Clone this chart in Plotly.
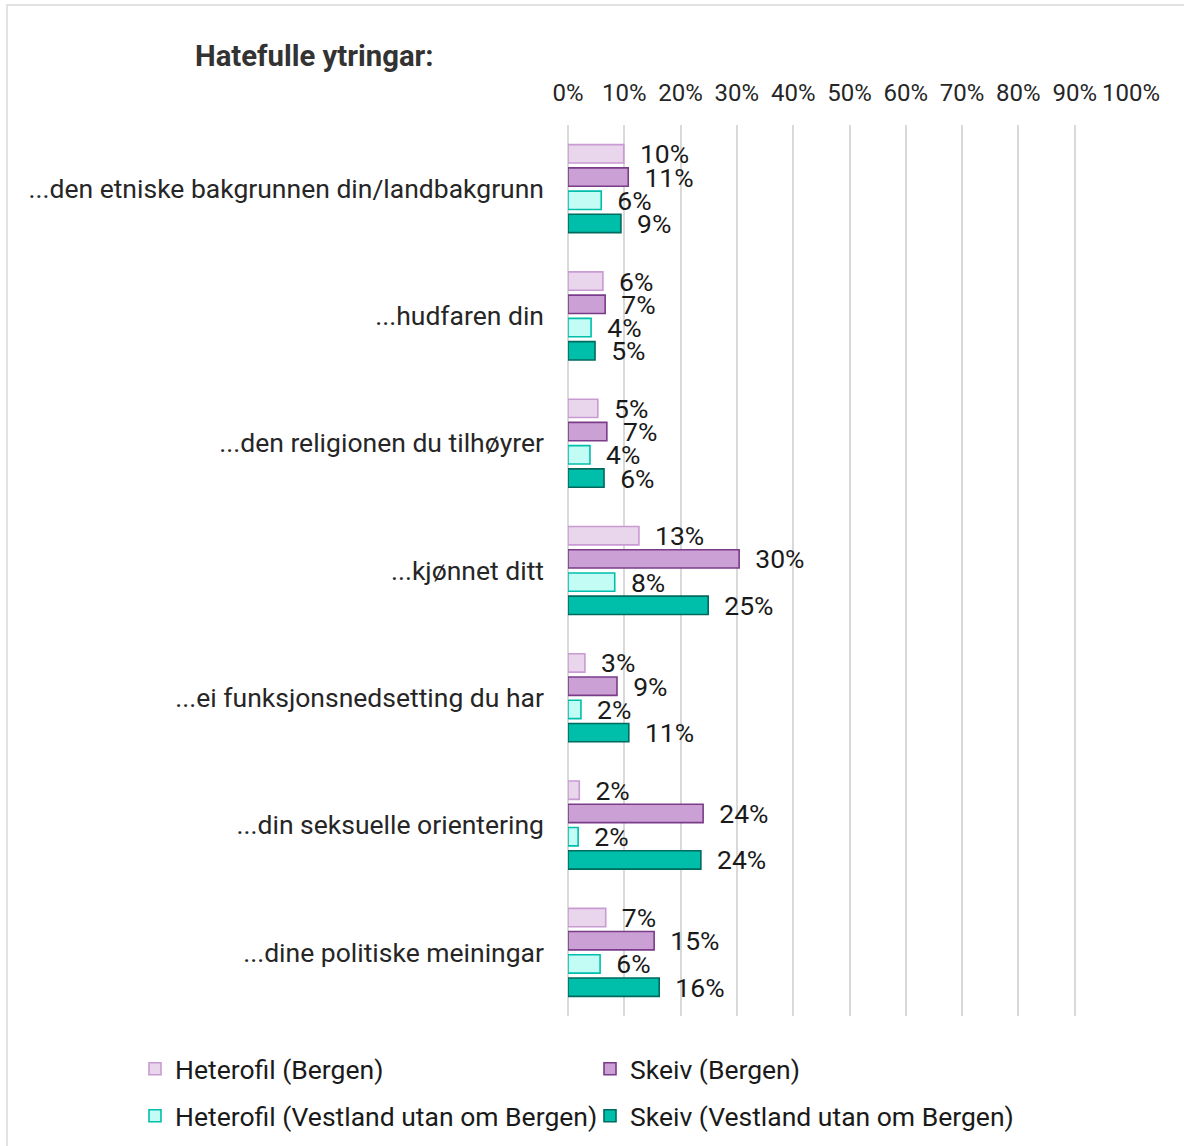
import plotly.graph_objects as go

categories = [
    "...den etniske bakgrunnen din/landbakgrunn",
    "...hudfaren din",
    "...den religionen du tilhøyrer",
    "...kjønnet ditt",
    "...ei funksjonsnedsetting du har",
    "...din seksuelle orientering",
    "...dine politiske meiningar",
]
series_names = [
    "Heterofil (Bergen)",
    "Skeiv (Bergen)",
    "Heterofil (Vestland utan om Bergen)",
    "Skeiv (Vestland utan om Bergen)",
]
hetero_bergen = [9.9, 6.2, 5.3, 12.6, 3.0, 2.0, 6.7]
skeiv_bergen = [10.7, 6.6, 6.9, 30.4, 8.7, 24.0, 15.3]
hetero_vest = [5.9, 4.1, 3.9, 8.3, 2.3, 1.8, 5.7]
skeiv_vest = [9.4, 4.8, 6.4, 24.9, 10.8, 23.6, 16.2]
tick_vals = [0, 10, 20, 30, 40, 50, 60, 70, 80, 90, 100]
tick_text = [f"{v}%" for v in tick_vals]

fills = ["#E9D5EC", "#CBA0D4", "#C2FCF4", "#00BFAA"]
borders = ["#C99BD3", "#7A3C88", "#00BFAA", "#006A5E"]
series_values = [hetero_bergen, skeiv_bergen, hetero_vest, skeiv_vest]
legend_ids = ["legend", "legend", "legend2", "legend2"]

FONT = "Roboto"
fig = go.Figure()
for name, vals, fc, bc, lg in zip(series_names, series_values, fills, borders, legend_ids):
    fig.add_trace(go.Bar(
        y=categories, x=vals, name=name, orientation="h", legend=lg,
        marker=dict(color=fc, line=dict(color=bc, width=1.6)),
        text=["\u00a0\u00a0" + f"{round(v):d}%" for v in vals],
        textposition="outside", constraintext="none", cliponaxis=False,
        textfont=dict(family=FONT, size=26.5, color="#1a1a1a"),
        hoverinfo="skip",
    ))

L, R, T, B = 568, 53, 125, 130
W, H = 1184, 1146
pw, ph = W - L - R, H - T - B

def px_x(p):
    return (p - L) / pw

def px_y(p):
    return (H - B - p) / ph

legend_common = dict(
    orientation="h", x=px_x(135), xanchor="left", yanchor="middle",
    font=dict(family=FONT, size=26.5, color="#1a1a1a"),
    entrywidth=410, entrywidthmode="pixels", traceorder="normal",
    itemwidth=30, bgcolor="rgba(0,0,0,0)",
)

fig.update_layout(
    width=W, height=H,
    margin=dict(l=L, r=R, t=T, b=B, autoexpand=False),
    paper_bgcolor="white", plot_bgcolor="white",
    barmode="group", bargap=0.27, bargroupgap=0.21,
    font=dict(family=FONT, color="#262626"),
    showlegend=True,
    legend=dict(legend_common, y=px_y(1069)),
    legend2=dict(legend_common, y=px_y(1116)),
    xaxis=dict(
        range=[0, 100], side="top", tickvals=tick_vals, ticktext=tick_text,
        showgrid=True, gridcolor="#D9D9D9", gridwidth=1.5,
        zeroline=True, zerolinecolor="#D9D9D9", zerolinewidth=1.5,
        showline=False, ticks="", ticklabelstandoff=18,
        tickfont=dict(family=FONT, size=24, color="#262626"),
        fixedrange=True,
    ),
    yaxis=dict(
        autorange="reversed", showgrid=False, showline=False, ticks="",
        ticklabelstandoff=23,
        tickfont=dict(family=FONT, size=26.5, color="#262626"),
        fixedrange=True,
    ),
    annotations=[dict(
        text="<b>Hatefulle ytringar:</b>", xref="paper", yref="paper",
        x=px_x(193), y=px_y(56), xanchor="left", yanchor="middle",
        showarrow=False, font=dict(family=FONT, size=29.3, color="#333333"),
    )],
    shapes=[dict(
        type="rect", xref="paper", yref="paper",
        x0=px_x(7), x1=px_x(1200), y0=px_y(1160), y1=px_y(5),
        line=dict(color="#D9D9D9", width=1.5), fillcolor="rgba(0,0,0,0)", layer="below",
    )],
)

fig.write_html("out.html", config={"displayModeBar": False},
               post_script="document.body.style.margin='0';")
